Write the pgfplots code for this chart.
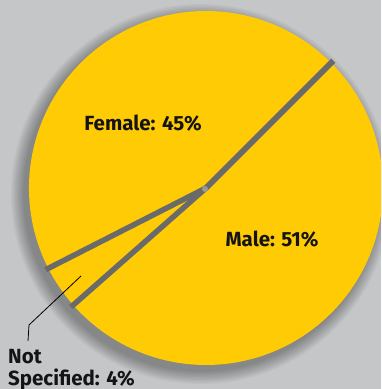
\documentclass[border=0pt]{standalone}
\usepackage{pgfplots}
\pgfplotsset{compat=1.18}
\usepackage{pgfplotstable}
\usepackage{fontspec}
\setmainfont{Fira Sans}
\definecolor{bg}{HTML}{C5C6C8}
\definecolor{pieyellow}{HTML}{FFCB05}
\definecolor{sep}{HTML}{6A6A6A}
\definecolor{txt}{HTML}{141414}
\pgfplotstableread{
label value
Male 51
NotSpecified 4
Female 45
}\piedata
\pgfplotstablegetelem{0}{value}\of\piedata \pgfmathsetmacro\vMale{\pgfplotsretval}
\pgfplotstablegetelem{1}{value}\of\piedata \pgfmathsetmacro\vNS{\pgfplotsretval}
\pgfplotstablegetelem{2}{value}\of\piedata \pgfmathsetmacro\vFem{\pgfplotsretval}
\pgfmathsetmacro\aA{45}
\pgfmathsetmacro\aB{\aA-3.6*\vMale}
\pgfmathsetmacro\aC{\aB-3.6*\vNS}
\pgfmathsetmacro\aD{\aC-3.6*\vFem}
\begin{document}
\begin{tikzpicture}
\begin{axis}[anchor=south west, at={(0pt,0pt)}, x=1pt, y=1pt,
  xmin=0, xmax=381, ymin=0, ymax=389, hide axis, clip=true]
\fill[bg] (axis cs:0,0) rectangle (axis cs:381,389);
% soft shadow
\pgfplotsinvokeforeach{1,...,10}{
  \fill[black,opacity=0.035] (axis cs:201,195) circle[radius={176+#1*1.4}];
}
% slices
\fill[pieyellow] (axis cs:206,201) -- ++(\aA:177pt) arc[start angle=\aA, end angle=\aB, radius=177pt] -- cycle;
\fill[pieyellow] (axis cs:206,201) -- ++(\aB:177pt) arc[start angle=\aB, end angle=\aC, radius=177pt] -- cycle;
\fill[pieyellow] (axis cs:206,201) -- ++(\aC:177pt) arc[start angle=\aC, end angle=\aD, radius=177pt] -- cycle;
% separators
\draw[sep, line width=6pt] (axis cs:206,201) -- ++(\aA:180pt);
\draw[sep, line width=5.5pt] (axis cs:206,201) -- ++(\aB:180pt);
\draw[sep, line width=5.5pt] (axis cs:206,201) -- ++(\aC:180pt);
\fill[gray!80] (axis cs:205,200) circle[radius=3];
% labels
\node[anchor=base, text=txt, font=\fontsize{20.5}{24}\selectfont\bfseries] at (axis cs:143,258) {Female: 45\%};
\node[anchor=base, text=txt, font=\fontsize{20.5}{24}\selectfont\bfseries] at (axis cs:272,142) {Male: 51\%};
\node[anchor=base west, inner sep=0pt, text=txt, font=\fontsize{20.5}{24}\selectfont\bfseries] at (axis cs:8,26) {Not};
\node[anchor=base west, inner sep=0pt, text=txt, font=\fontsize{20.5}{24}\selectfont\bfseries] at (axis cs:8,4) {Specified: 4\%};
\draw[black, line width=0.8pt] (axis cs:81,113) -- (axis cs:29,64) -- (axis cs:28,48);
\end{axis}
\end{tikzpicture}
\end{document}
